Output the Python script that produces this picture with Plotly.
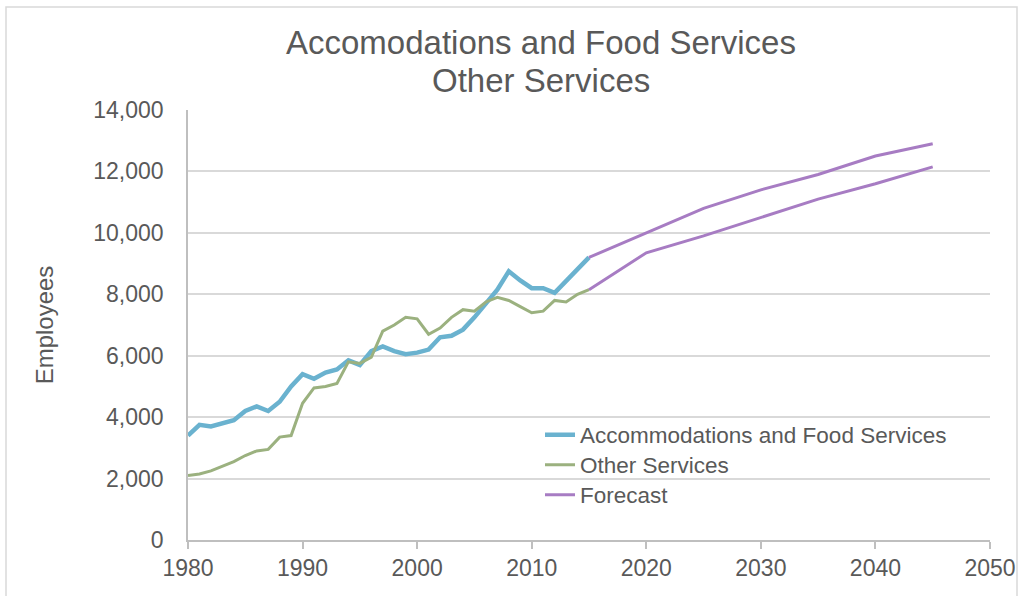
import plotly.graph_objects as go

# Historical employment, 1980-2015
years = list(range(1980, 2016))
accommodation = [3400, 3750, 3700, 3800, 3900, 4200, 4350, 4200, 4500, 5000,
                 5400, 5250, 5450, 5550, 5850, 5700, 6150, 6300, 6150, 6050,
                 6100, 6200, 6600, 6650, 6850, 7250, 7700, 8150, 8750, 8450,
                 8200, 8200, 8050, 8450, 8800, 9200]
other_services = [2100, 2150, 2250, 2400, 2550, 2750, 2900, 2950, 3350, 3400,
                  4450, 4950, 5000, 5100, 5800, 5750, 5950, 6800, 7000, 7250,
                  7200, 6700, 6900, 7250, 7500, 7450, 7750, 7900, 7800, 7600,
                  7400, 7450, 7800, 7750, 8000, 8150]

# Projections, 2015-2045
forecast_years = [2015, 2020, 2025, 2030, 2035, 2040, 2045]
forecast_accommodation = [9200, 10000, 10800, 11400, 11900, 12500, 12900]
forecast_other = [8150, 9350, 9900, 10500, 11100, 11600, 12150]

x_ticks = [1980, 1990, 2000, 2010, 2020, 2030, 2040, 2050]
y_ticks = [0, 2000, 4000, 6000, 8000, 10000, 12000, 14000]
title_lines = ["Accomodations and Food Services", "Other Services"]

BLUE = "#6AB2CF"
GREEN = "#9BB17F"
PURPLE = "#A77CC3"
TEXT = "#595959"
FONT = "Liberation Sans, Arial, sans-serif"

fig = go.Figure()
fig.add_trace(go.Scatter(x=years, y=accommodation, mode="lines",
                         name="Accommodations and Food Services", legend="legend",
                         showlegend=True, line=dict(color=BLUE, width=4.5)))
fig.add_trace(go.Scatter(x=years, y=other_services, mode="lines",
                         name="Other Services", legend="legend2",
                         showlegend=True, line=dict(color=GREEN, width=3)))
fig.add_trace(go.Scatter(x=forecast_years, y=forecast_accommodation, mode="lines",
                         name="Forecast", legend="legend3",
                         showlegend=True, line=dict(color=PURPLE, width=3)))
fig.add_trace(go.Scatter(x=forecast_years, y=forecast_other, mode="lines",
                         name="Forecast", showlegend=False, legend="legend3",
                         line=dict(color=PURPLE, width=3)))

# Two-line chart title, centred over the chart
title_annotations = [
    dict(text=line, xref="paper", yref="paper",
         x=(541 - 188) / 802, y=(540 - cy) / 430,
         xanchor="center", yanchor="middle", showarrow=False,
         font=dict(family=FONT, size=33, color=TEXT))
    for line, cy in zip(title_lines, [42, 80])
]


def legend_row(center_y):
    # one legend entry per row, evenly spaced below the lines
    return dict(
        visible=True,
        x=(540 - 188) / (990 - 188), xanchor="left",
        y=(540 - center_y) / 430, yanchor="middle",
        bgcolor="rgba(0,0,0,0)", borderwidth=0,
        font=dict(size=22.5, color=TEXT),
    )


fig.update_layout(
    width=1023, height=596,
    showlegend=True,
    margin=dict(l=188, r=33, t=110, b=56),
    paper_bgcolor="white", plot_bgcolor="white",
    font=dict(family=FONT, color=TEXT, size=22),
    annotations=title_annotations,
    xaxis=dict(
        range=[1980, 2050], tickvals=x_ticks, ticktext=[str(v) for v in x_ticks],
        showgrid=False, zeroline=False, automargin=False,
        showline=True, linecolor="#BFBFBF", linewidth=1.5,
        ticks="outside", ticklen=7, tickcolor="#BFBFBF", tickwidth=1.5,
        tickfont=dict(size=23, color=TEXT),
    ),
    yaxis=dict(
        range=[0, 14000], tickvals=y_ticks,
        ticktext=[f"{v:,}" for v in y_ticks],
        showgrid=True, gridcolor="#D9D9D9", gridwidth=1.5, zeroline=False,
        showline=True, linecolor="#BFBFBF", linewidth=1.5,
        ticks="", ticklabelstandoff=18, automargin=False,
        tickfont=dict(size=23, color=TEXT),
        title=dict(text="Employees", font=dict(size=24, color=TEXT), standoff=33),
    ),
    legend=legend_row(435),
    legend2=legend_row(465),
    legend3=legend_row(495),
    shapes=[dict(type="rect", xref="paper", yref="paper",
                 x0=-(188 - 6) / 802, x1=(1017 - 188) / 802,
                 y0=-(596 - 540 + 10) / 430, y1=(540 - 7) / 430,
                 line=dict(color="#D9D9D9", width=1.5), layer="below")],
)

fig.write_html("out.html")
